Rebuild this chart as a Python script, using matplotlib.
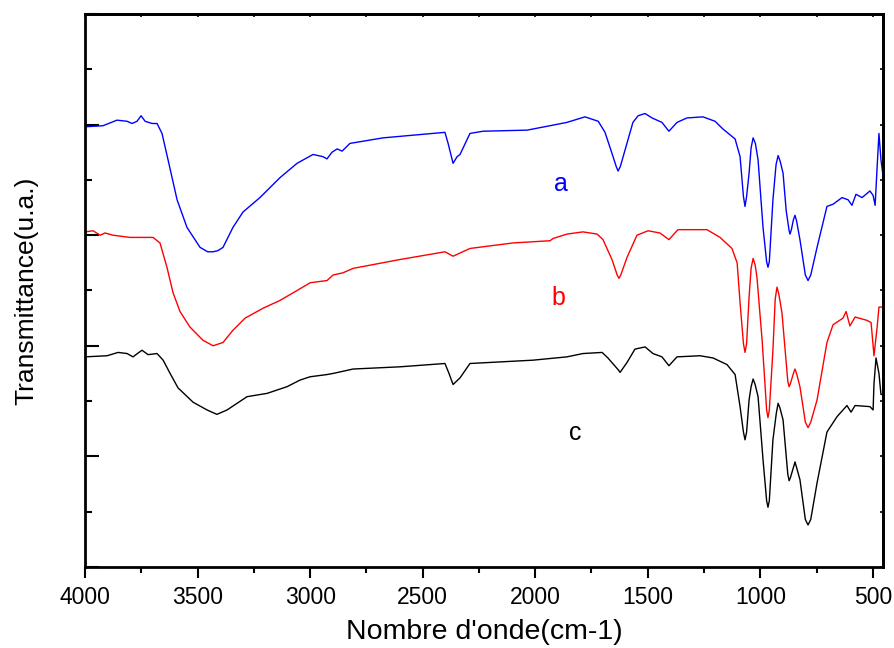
"""FTIR spectra (a, b, c) stacked, transmittance vs wavenumber."""

import matplotlib

matplotlib.use("Agg")
import matplotlib.pyplot as plt
from matplotlib.ticker import MultipleLocator, NullFormatter

plt.rcParams["font.family"] = ["Liberation Sans", "DejaVu Sans"]

# spectrum a (blue)
wn_a = [4000, 3920, 3858, 3813, 3791, 3769, 3751, 3733, 3702, 3680, 3658, 3631,
        3591, 3547, 3489, 3455, 3431, 3410, 3387, 3343, 3298, 3223, 3134, 3058,
        2987, 2943, 2925, 2903, 2880, 2858, 2823, 2676, 2401, 2387, 2365, 2347,
        2334, 2290, 2232, 2036, 1934, 1859, 1779, 1720, 1690, 1659, 1640, 1632,
        1622, 1601, 1566, 1543, 1512, 1481, 1437, 1406, 1370, 1326, 1255, 1201,
        1166, 1112, 1090, 1075, 1068, 1061, 1050, 1041, 1032, 1022, 1010, 988, 972,
        966, 960, 944, 930, 921, 912, 899, 885, 872, 868, 862, 853, 846, 839, 824,
        800, 788, 776, 748, 704, 677, 637, 610, 593, 575, 548, 513, 499, 490, 481,
        473, 464, 455]
t_a = [3.98, 3.99, 4.04, 4.03, 4.01, 4.03, 4.08, 4.03, 4.01, 4.01, 3.92, 3.68,
       3.32, 3.07, 2.89, 2.85, 2.85, 2.86, 2.89, 3.07, 3.21, 3.34, 3.52, 3.65,
       3.73, 3.71, 3.69, 3.75, 3.78, 3.76, 3.83, 3.88, 3.93, 3.83, 3.65, 3.71,
       3.73, 3.92, 3.94, 3.95, 3.99, 4.02, 4.07, 4.03, 3.93, 3.74, 3.62, 3.58,
       3.62, 3.77, 4.02, 4.08, 4.10, 4.06, 4.02, 3.94, 4.02, 4.06, 4.07, 4.03,
       3.96, 3.87, 3.71, 3.35, 3.26, 3.35, 3.56, 3.79, 3.88, 3.83, 3.68, 3.07,
       2.76, 2.71, 2.76, 3.32, 3.64, 3.72, 3.67, 3.56, 3.22, 3.04, 3.01, 3.05,
       3.14, 3.18, 3.13, 2.96, 2.64, 2.59, 2.64, 2.89, 3.26, 3.28, 3.34, 3.32,
       3.27, 3.37, 3.34, 3.40, 3.36, 3.27, 3.62, 3.92, 3.68, 3.54]

# spectrum b (red)
wn_b = [4000, 3964, 3933, 3911, 3876, 3800, 3720, 3698, 3667, 3636, 3609, 3578,
        3534, 3476, 3431, 3387, 3343, 3289, 3209, 3134, 3058, 3000, 2925, 2898,
        2854, 2809, 2601, 2401, 2365, 2290, 2099, 1934, 1921, 1859, 1788, 1725,
        1699, 1659, 1636, 1628, 1620, 1592, 1548, 1499, 1446, 1406, 1366, 1237,
        1179, 1126, 1103, 1090, 1075, 1068, 1061, 1050, 1041, 1032, 1023, 1015,
        992, 972, 966, 960, 944, 934, 926, 918, 904, 878, 872, 866, 853, 846, 839,
        824, 800, 788, 776, 748, 704, 677, 633, 619, 602, 579, 526, 508, 495, 481,
        473, 455]
t_b = [3.03, 3.04, 3.00, 3.02, 3.00, 2.98, 2.98, 2.98, 2.93, 2.71, 2.48, 2.31,
       2.17, 2.05, 2.00, 2.03, 2.14, 2.25, 2.34, 2.41, 2.50, 2.57, 2.59, 2.64,
       2.66, 2.70, 2.78, 2.85, 2.81, 2.88, 2.93, 2.95, 2.97, 3.01, 3.03, 3.01,
       2.96, 2.78, 2.64, 2.61, 2.64, 2.80, 3.00, 3.04, 3.02, 2.96, 3.05, 3.05,
       2.98, 2.88, 2.75, 2.39, 2.02, 1.94, 2.02, 2.44, 2.70, 2.79, 2.73, 2.62,
       2.05, 1.42, 1.35, 1.42, 1.96, 2.42, 2.53, 2.47, 2.30, 1.68, 1.63, 1.66,
       1.75, 1.79, 1.75, 1.63, 1.31, 1.26, 1.31, 1.51, 2.03, 2.19, 2.25, 2.31,
       2.18, 2.26, 2.23, 2.21, 1.91, 2.17, 2.35, 2.35]

# spectrum c (black)
wn_c = [4000, 3902, 3853, 3813, 3787, 3747, 3720, 3680, 3653, 3622, 3587, 3520,
        3458, 3414, 3369, 3280, 3191, 3103, 3045, 3000, 2925, 2898, 2809, 2601,
        2401, 2383, 2365, 2334, 2290, 2010, 1859, 1788, 1703, 1677, 1630, 1623,
        1616, 1592, 1557, 1512, 1477, 1437, 1406, 1370, 1268, 1210, 1148, 1112,
        1090, 1075, 1068, 1061, 1050, 1041, 1032, 1023, 1010, 988, 972, 966, 960,
        944, 929, 921, 913, 899, 878, 872, 866, 853, 846, 839, 824, 800, 788, 776,
        748, 704, 659, 615, 597, 579, 513, 499, 495, 486, 473, 464, 455]
t_c = [1.90, 1.91, 1.94, 1.93, 1.90, 1.96, 1.92, 1.93, 1.87, 1.75, 1.62, 1.49,
       1.42, 1.38, 1.42, 1.54, 1.57, 1.63, 1.69, 1.72, 1.74, 1.75, 1.79, 1.81,
       1.84, 1.75, 1.65, 1.71, 1.84, 1.87, 1.90, 1.93, 1.94, 1.89, 1.78, 1.76,
       1.78, 1.85, 1.97, 1.99, 1.93, 1.90, 1.82, 1.90, 1.91, 1.89, 1.83, 1.74,
       1.45, 1.22, 1.15, 1.22, 1.51, 1.63, 1.70, 1.65, 1.54, 0.97, 0.60, 0.54,
       0.60, 1.15, 1.39, 1.48, 1.44, 1.33, 0.84, 0.78, 0.81, 0.90, 0.95, 0.90,
       0.79, 0.43, 0.38, 0.43, 0.76, 1.22, 1.36, 1.46, 1.40, 1.46, 1.45, 1.42,
       1.66, 1.89, 1.75, 1.56, 1.56]

labels = ["a", "b", "c"]
label_wn = [1885, 1899, 1823]
label_t = [3.46, 2.43, 1.21]
colors = ["#0000ff", "#ff0000", "#000000"]


def main():
    fig = plt.figure(figsize=(8.94, 6.48), dpi=100)
    ax = fig.add_axes([0.0951, 0.125, 0.8926, 0.8534])

    for wn, t, c in zip([wn_a, wn_b, wn_c], [t_a, t_b, t_c], colors):
        ax.plot(wn, t, color=c, lw=1.0)

    for lab, x, y, c in zip(labels, label_wn, label_t, colors):
        ax.text(x, y, lab, color=c, fontsize=18, ha="center", va="center")

    ax.set_xlim(4000, 455)
    ax.set_ylim(0, 5)

    ax.xaxis.set_major_locator(MultipleLocator(500))
    ax.xaxis.set_minor_locator(MultipleLocator(250))
    ax.yaxis.set_major_locator(MultipleLocator(1))
    ax.yaxis.set_minor_locator(MultipleLocator(0.5))
    ax.yaxis.set_major_formatter(NullFormatter())

    ax.tick_params(axis="x", which="major", direction="out", length=8, width=1.5,
                   labelsize=16.5, pad=6, top=False)
    ax.tick_params(axis="x", which="minor", direction="out", length=4.5, width=1.5,
                   top=False)
    ax.tick_params(axis="y", which="major", direction="in", length=10, width=1.5,
                   right=False)
    ax.tick_params(axis="y", which="minor", direction="in", length=5, width=1.5,
                   right=False)

    # top and right ticks: short, inward, no labels
    top = ax.secondary_xaxis("top")
    top.xaxis.set_major_locator(MultipleLocator(500))
    top.xaxis.set_minor_locator(MultipleLocator(250))
    top.tick_params(which="both", direction="in", length=2.5, width=1.2, labeltop=False)
    right = ax.secondary_yaxis("right")
    right.yaxis.set_major_locator(MultipleLocator(1))
    right.yaxis.set_minor_locator(MultipleLocator(0.5))
    right.tick_params(which="both", direction="in", length=2.5, width=1.2, labelright=False)

    for sp in ax.spines.values():
        sp.set_linewidth(2)
    top.spines["top"].set_linewidth(2)
    right.spines["right"].set_linewidth(2)

    ax.set_xlabel("Nombre d'onde(cm-1)", fontsize=20.5, va="center")
    ax.xaxis.set_label_coords(0.5, -0.1175)
    ax.set_ylabel("Transmittance(u.a.)", fontsize=19, va="center")
    ax.yaxis.set_label_coords(-0.074, 0.5)

    fig.savefig("out.png", dpi=100)


if __name__ == "__main__":
    main()
